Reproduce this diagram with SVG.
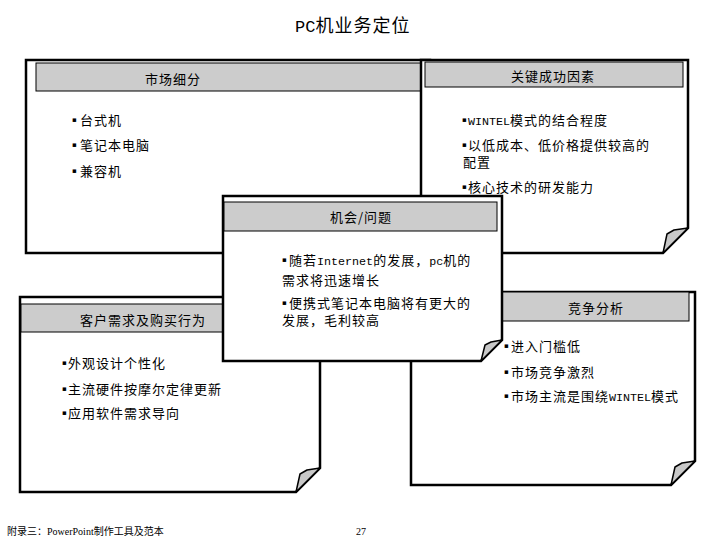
<svg xmlns="http://www.w3.org/2000/svg" width="720" height="540" viewBox="0 0 720 540">
<style>
.box{fill:#fff;stroke:#000;stroke-width:2.5;stroke-linejoin:miter}
.flap{fill:#c8c8c8;stroke:#000;stroke-width:1.5;stroke-linejoin:round}
.hdr{fill:#cccccc;stroke:#000;stroke-width:1}
text{font-family:"Noto Sans CJK SC","Noto Sans CJK JP",sans-serif;fill:#000}
.h{font-size:13px;letter-spacing:1px;text-anchor:middle}
.t{font-size:13px;letter-spacing:1px}
.m{font-family:"Liberation Mono",monospace;font-size:11.7px;letter-spacing:0}
.b{font-family:"DejaVu Sans",sans-serif;font-size:7px}
.title{font-size:18px;letter-spacing:1px}
.foot{font-family:"Liberation Serif","Noto Sans CJK SC",serif;font-size:10px}
</style>
<text class="title" x="295" y="32"><tspan class="m" style="font-size:17px;letter-spacing:0">PC</tspan>机业务定位</text>

<g id="market">
<path class="box" d="M26,60 H430 V253 H26 Z"/>
<rect class="hdr" x="36" y="63" width="389" height="28"/>
<text class="h" x="173" y="84">市场细分</text>
<text class="b" x="72" y="122">▪</text><text class="t" x="80" y="125">台式机</text>
<text class="b" x="72" y="147">▪</text><text class="t" x="80" y="150">笔记本电脑</text>
<text class="b" x="72" y="173">▪</text><text class="t" x="80" y="176">兼容机</text>
</g>

<g id="ksf">
<path class="box" d="M421,60 H688 V228 L663,253 H421 Z"/>
<path class="flap" d="M663,253 L667,234 L674,230 L688,228 Z"/>
<rect class="hdr" x="425" y="62" width="258" height="25"/>
<text class="h" x="553" y="81">关键成功因素</text>
<text class="b" x="462" y="122">▪</text><text class="t" x="468" y="125"><tspan class="m">WINTEL</tspan>模式的结合程度</text>
<text class="b" x="462" y="147">▪</text><text class="t" x="468" y="150">以低成本、低价格提供较高的</text>
<text class="t" x="463" y="167">配置</text>
<text class="b" x="462" y="189">▪</text><text class="t" x="468" y="192">核心技术的研发能力</text>
</g>

<g id="customer">
<path class="box" d="M20,297 H320 V468 L296,492 H20 Z"/>
<path class="flap" d="M296,492 L300,474 L307,470 L320,468 Z"/>
<rect class="hdr" x="21" y="304" width="250" height="28"/>
<text class="h" x="143" y="325">客户需求及购买行为</text>
<text class="b" x="62" y="365">▪</text><text class="t" x="68" y="368">外观设计个性化</text>
<text class="b" x="62" y="391">▪</text><text class="t" x="68" y="394">主流硬件按摩尔定律更新</text>
<text class="b" x="62" y="415">▪</text><text class="t" x="68" y="418">应用软件需求导向</text>
</g>

<g id="competition">
<path class="box" d="M411,292 H695 V461 L671,485 H411 Z"/>
<path class="flap" d="M671,485 L675,467 L682,463 L695,461 Z"/>
<rect class="hdr" x="421" y="292" width="268" height="29"/>
<text class="h" x="596" y="313">竞争分析</text>
<text class="b" x="504" y="348">▪</text><text class="t" x="511" y="351">进入门槛低</text>
<text class="b" x="504" y="374">▪</text><text class="t" x="511" y="377">市场竞争激烈</text>
<text class="b" x="504" y="398">▪</text><text class="t" x="511" y="401">市场主流是围绕<tspan class="m">WINTEL</tspan>模式</text>
</g>

<g id="opportunity">
<path class="box" d="M223,196 H502 V340 L481,361 H223 Z"/>
<path class="flap" d="M481,361 L485,345 L491,342 L502,340 Z"/>
<rect class="hdr" x="224" y="202" width="273" height="29"/>
<text class="h" x="361" y="222">机会/问题</text>
<text class="b" x="282" y="262">▪</text><text class="t" x="289" y="265">随若<tspan class="m">Internet</tspan>的发展，<tspan class="m">pc</tspan>机的</text>
<text class="t" x="282" y="285">需求将迅速增长</text>
<text class="b" x="282" y="305">▪</text><text class="t" x="289" y="308">便携式笔记本电脑将有更大的</text>
<text class="t" x="282" y="325">发展，毛利较高</text>
</g>

<text class="foot" x="7" y="535">附录三：PowerPoint制作工具及范本</text>
<text class="foot" x="356" y="535">27</text>
</svg>
